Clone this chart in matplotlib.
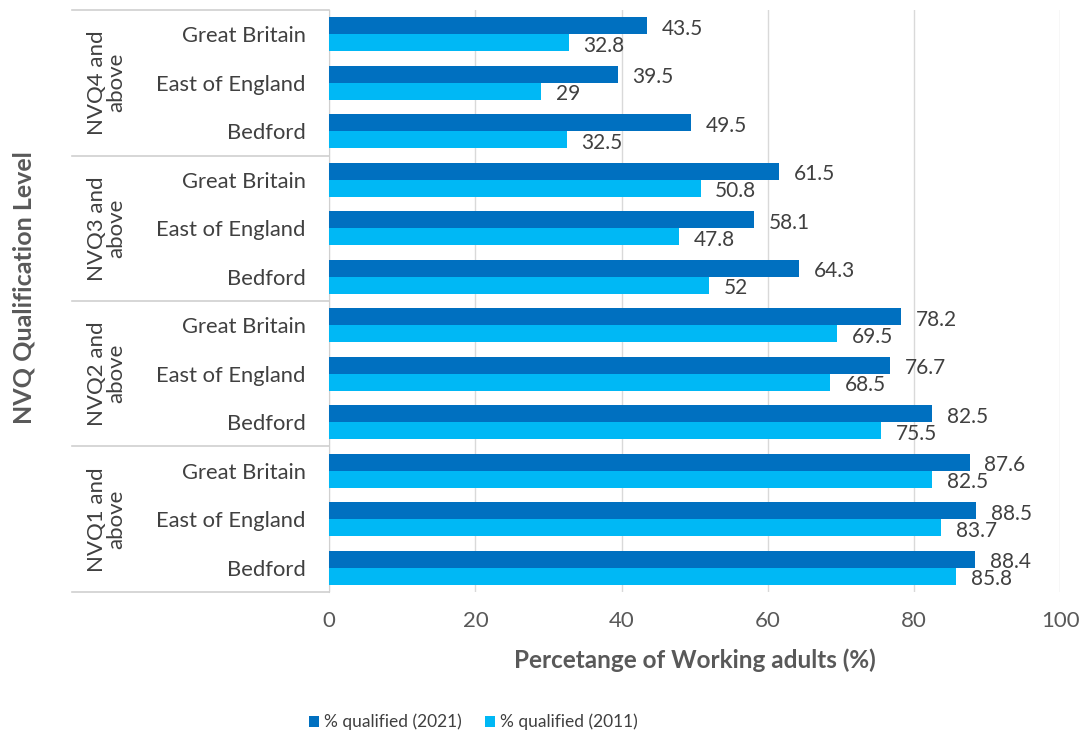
import numpy as np
import matplotlib.pyplot as plt
import matplotlib.transforms as mtransforms

plt.rcParams['font.family'] = ['Lato', 'DejaVu Sans']

# data, top to bottom
levels = ["NVQ4 and\nabove", "NVQ3 and\nabove", "NVQ2 and\nabove", "NVQ1 and\nabove"]
areas = ["Great Britain", "East of England", "Bedford"]
q2021 = [43.5, 39.5, 49.5, 61.5, 58.1, 64.3, 78.2, 76.7, 82.5, 87.6, 88.5, 88.4]
q2011 = [32.8, 29, 32.5, 50.8, 47.8, 52, 69.5, 68.5, 75.5, 82.5, 83.7, 85.8]
xticks = [0, 20, 40, 60, 80, 100]

dark = "#0070C0"
light = "#00B8F5"
txt = "#404040"
grey = "#595959"

fig = plt.figure(figsize=(10.83, 7.42), dpi=100)
ax = fig.add_axes([0.304, 0.2022, 0.675, 0.7843])

y = np.arange(len(q2021))
h = 0.35
ax.barh(y - h / 2, q2021, height=h, color=dark, label="% qualified (2021)", zorder=3)
ax.barh(y + h / 2, q2011, height=h, color=light, label="% qualified (2011)", zorder=3)

for yi, a, b in zip(y, q2021, q2011):
    ax.text(a + 2, yi - h / 2 + 0.06, f"{a:g}", va="center", ha="left", fontsize=15, color=txt)
    ax.text(b + 2, yi + h / 2 + 0.06, f"{b:g}", va="center", ha="left", fontsize=15, color=txt)

ax.set_ylim(11.5, -0.5)
ax.set_xlim(0, 100)
ax.set_yticks(y)
ax.set_yticklabels(areas * 4, fontsize=15.8, color=txt)
ax.set_xticks(xticks)
ax.set_xticklabels([str(t) for t in xticks], fontsize=16, color=grey)
ax.tick_params(axis="y", length=0, pad=17)
ax.tick_params(axis="x", length=0, pad=14)
ax.grid(axis="x", color="#d9d9d9", linewidth=1, zorder=0)

for s in ["top", "right", "bottom"]:
    ax.spines[s].set_visible(False)
ax.spines["left"].set_color("#d0d0d0")

# group separators and level labels
trans = mtransforms.blended_transform_factory(ax.transAxes, ax.transData)
for yy in [-0.5, 2.5, 5.5, 8.5, 11.5]:
    ax.plot([-0.352, 0], [yy, yy], transform=trans, color="#d0d0d0", lw=1.2, clip_on=False)
for i, lv in enumerate(levels):
    ax.text(-0.305, 3 * i + 1, lv, transform=trans, rotation=90, ha="center", va="center",
            fontsize=16, color=txt, linespacing=0.95)

ax.set_xlabel("Percetange of Working adults (%)", fontsize=17.5, fontweight="bold", color=grey, labelpad=12)
fig.text(0.022, 0.612, "NVQ Qualification Level", rotation=90, ha="center", va="center",
         fontsize=18, fontweight="bold", color=grey)

fig.legend(loc="center", bbox_to_anchor=(0.437, 0.027), ncol=2, frameon=False, fontsize=12.5,
           handlelength=0.6, handleheight=0.6, handletextpad=0.3, columnspacing=1.3,
           labelcolor=txt)

fig.savefig("out.png", dpi=100)
